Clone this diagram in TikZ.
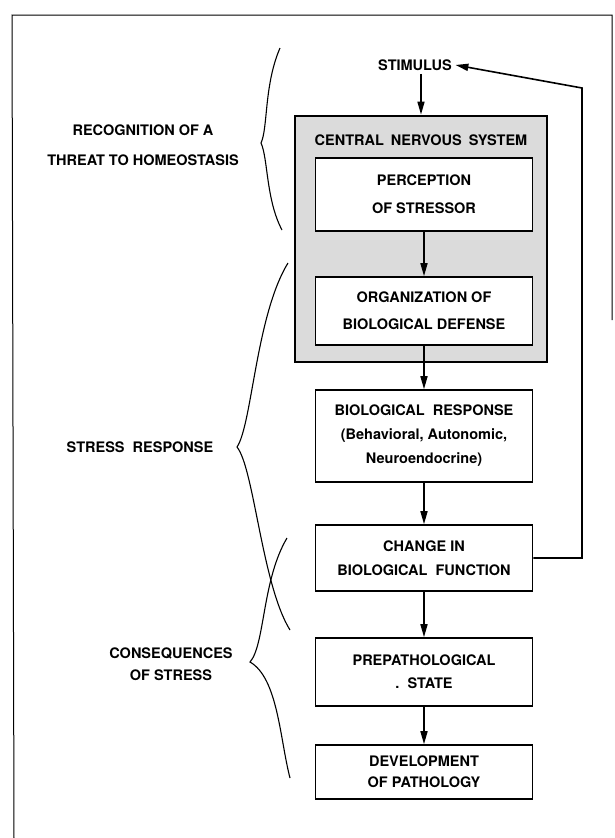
\documentclass[tikz,border=0pt]{standalone}
\usepackage{fontspec}
\setmainfont{TeX Gyre Heros}
\usetikzlibrary{arrows.meta,positioning}
\tikzset{
    block/.style = {draw, rectangle, fill=white, line width=1.6pt,
        minimum width=217pt, align=center, inner sep=2pt},
    cnsbox/.style = {draw, rectangle, fill=black!14, line width=2.8pt,
        minimum width=252pt, minimum height=246pt},
    phase/.style = {align=center},
    arrow/.style = {draw, ->, line width=1.6pt},
    brace/.style = {draw, line width=1.1pt}
}

\begin{document}
\begin{tikzpicture}[x=1pt, y=-1pt, >={Triangle[length=13pt,width=7pt]},
    font=\fontsize{14.5}{24}\selectfont\bfseries]
    \useasboundingbox (0,0) rectangle (615,838);
    % page frame
    \draw [line width=1pt] (612,320) -- (612,15) -- (12,15) -- (14,838);
    \node (stim) at (415,65) {STIMULUS};
    \node [cnsbox] (cns) at (421,239) {};
    \node (cnslabel) at (421,140) {CENTRAL\hspace{7pt}NERVOUS\hspace{7pt}SYSTEM};
    \node [block, minimum height=73pt] (percep) at (424,194.5) {PERCEPTION\\[4pt] OF STRESSOR};
    \node [block, minimum height=68pt, below of=percep, node distance=116.5pt] (organ) {ORGANIZATION OF\\[3pt] BIOLOGICAL DEFENSE};
    \node [block, minimum height=92pt, below of=organ, node distance=125pt] (bioresp) {BIOLOGICAL\ \ RESPONSE\\ (Behavioral, Autonomic,\\ Neuroendocrine)};
    \node [block, minimum height=66pt, below of=bioresp, node distance=122pt] (change) {CHANGE IN\\ BIOLOGICAL\ \ FUNCTION};
    \node [block, minimum height=68pt, below of=change, node distance=114pt] (prepath) {PREPATHOLOGICAL\\[-1pt] .\ \ STATE};
    \node [block, minimum height=54pt, below of=prepath, node distance=100pt] (devpath) {DEVELOPMENT\\[-3pt] OF PATHOLOGY};
    \draw [arrow] (stim.south -| cns.north) -- (cns.north);
    \draw [arrow] (percep) -- (organ);
    \draw [arrow] (organ) -- (bioresp);
    \draw [arrow] (bioresp) -- (change);
    \draw [arrow] (change) -- (prepath);
    \draw [arrow] (prepath) -- (devpath);
    % feedback to the stimulus
    \coordinate (fbtop) at (582,88);
    \draw [arrow] (change.east) -- (change.east -| fbtop) -- (fbtop) -- (stim.east);
    % braces and phase labels
    \draw [brace] (280,48) .. controls (264,85) and (268,128) .. (261,143) .. controls (268,158) and (266,200) .. (282,230);
    \draw [brace] (288,263) .. controls (256,315) and (252,425) .. (237,447) .. controls (254,468) and (262,585) .. (290,630);
    \draw [brace] (287,538) .. controls (262,580) and (265,645) .. (250,662) .. controls (278,678) and (280,740) .. (290,778);
    \node [phase] (recog) at (143,145) {RECOGNITION OF A\\[6pt] THREAT TO HOMEOSTASIS};
    \node [phase] (stressresp) at (140,447) {STRESS\ \ RESPONSE};
    \node [phase] (conseq) at (171,664) {CONSEQUENCES\\[-2pt] OF STRESS};
\end{tikzpicture}
\end{document}
